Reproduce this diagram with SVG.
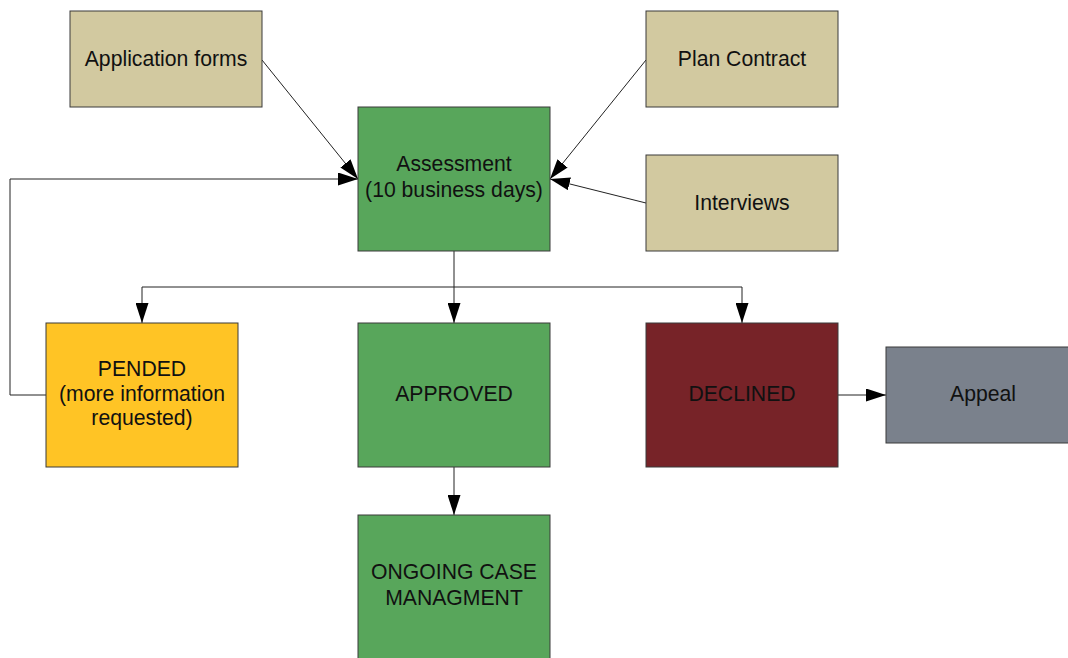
<svg xmlns="http://www.w3.org/2000/svg" width="1068" height="658" viewBox="0 0 1068 658">
  <style>
    .box { stroke: #3a3a3a; stroke-width: 1; }
    .tan { fill: #d2c9a0; }
    .green { fill: #58a65b; }
    .yellow { fill: #ffc425; }
    .red { fill: #772328; }
    .gray { fill: #7a818c; }
    .lbl { font-family: "Liberation Sans", Arial, sans-serif; font-size: 21.2px; fill: #111; text-anchor: middle; }
    .edge { fill: none; stroke: #222; stroke-width: 1; }
  </style>
  <defs>
    <marker id="arrow" viewBox="0 0 20 13" refX="20" refY="6.5" markerWidth="20" markerHeight="13" markerUnits="userSpaceOnUse" orient="auto">
      <path d="M0,0 L20,6.5 L0,13 Z" fill="#000"/>
    </marker>
  </defs>

  <rect width="1068" height="658" fill="#fff"/>

  <!-- connectors -->
  <g id="connectors">
    <path class="edge" d="M262,60 L358,179" marker-end="url(#arrow)"/>
    <path class="edge" d="M646,60 L550,179" marker-end="url(#arrow)"/>
    <path class="edge" d="M646,203 L550,179" marker-end="url(#arrow)"/>
    <path class="edge" d="M46,395 L10,395 L10,179 L358,179" marker-end="url(#arrow)"/>
    <path class="edge" d="M454,251 L454,323" marker-end="url(#arrow)"/>
    <path class="edge" d="M454,287 L142,287 L142,323" marker-end="url(#arrow)"/>
    <path class="edge" d="M454,287 L742,287 L742,323" marker-end="url(#arrow)"/>
    <path class="edge" d="M454,467 L454,515" marker-end="url(#arrow)"/>
    <path class="edge" d="M838,395 L886,395" marker-end="url(#arrow)"/>
  </g>

  <!-- nodes -->
  <g id="application-forms">
    <rect class="box tan" x="70" y="11" width="192" height="96"/>
    <text class="lbl" x="166" y="66">Application forms</text>
  </g>
  <g id="plan-contract">
    <rect class="box tan" x="646" y="11" width="192" height="96"/>
    <text class="lbl" x="742" y="66">Plan Contract</text>
  </g>
  <g id="interviews">
    <rect class="box tan" x="646" y="155" width="192" height="96"/>
    <text class="lbl" x="742" y="210">Interviews</text>
  </g>
  <g id="assessment">
    <rect class="box green" x="358" y="107" width="192" height="144"/>
    <text class="lbl" x="454" y="171">Assessment</text>
    <text class="lbl" x="454" y="197">(10 business days)</text>
  </g>
  <g id="pended">
    <rect class="box yellow" x="46" y="323" width="192" height="144"/>
    <text class="lbl" x="142" y="376">PENDED</text>
    <text class="lbl" x="142" y="401">(more information</text>
    <text class="lbl" x="142" y="425">requested)</text>
  </g>
  <g id="approved">
    <rect class="box green" x="358" y="323" width="192" height="144"/>
    <text class="lbl" x="454" y="401">APPROVED</text>
  </g>
  <g id="declined">
    <rect class="box red" x="646" y="323" width="192" height="144"/>
    <text class="lbl" x="742" y="401">DECLINED</text>
  </g>
  <g id="appeal">
    <rect class="box gray" x="886" y="347" width="192" height="96"/>
    <text class="lbl" x="983" y="401">Appeal</text>
  </g>
  <g id="ongoing-case-management">
    <rect class="box green" x="358" y="515" width="192" height="150"/>
    <text class="lbl" x="454" y="579">ONGOING CASE</text>
    <text class="lbl" x="454" y="605">MANAGMENT</text>
  </g>
</svg>
